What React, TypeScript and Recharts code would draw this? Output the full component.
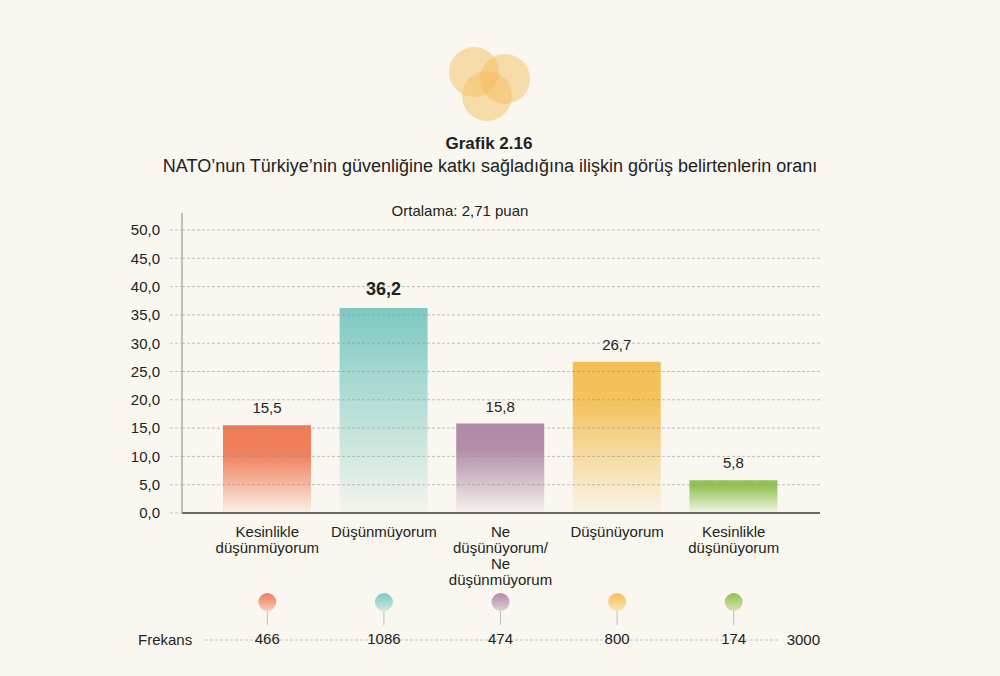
import React from 'react';
import { BarChart, Bar, XAxis, YAxis, ReferenceLine, LabelList, Cell } from 'recharts';

// Grafik 2.16 data
const categories = ['Kesinlikle düşünmüyorum', 'Düşünmüyorum', 'Ne düşünüyorum/ Ne düşünmüyorum', 'Düşünüyorum', 'Kesinlikle düşünüyorum'];
const categoryLines = [
  ['Kesinlikle', 'düşünmüyorum'],
  ['Düşünmüyorum'],
  ['Ne', 'düşünüyorum/', 'Ne', 'düşünmüyorum'],
  ['Düşünüyorum'],
  ['Kesinlikle', 'düşünüyorum'],
];
const percentages = [15.5, 36.2, 15.8, 26.7, 5.8];
const frequencies = [466, 1086, 474, 800, 174];
const frequencyTotal = 3000;
const yTicks = [0, 5, 10, 15, 20, 25, 30, 35, 40, 45, 50];
const barColors = ['#f07b57', '#7cc9c2', '#b08aa6', '#f4bf55', '#8fc24e'];
const fadeStart = [0.35, 0.05, 0.3, 0.25, 0.2];

const chartData = categories.map((name, i) => ({ name, value: percentages[i] }));

const FONT = '"Liberation Sans", Arial, Helvetica, sans-serif';
const fmt = (v: number) => v.toFixed(1).replace('.', ',');

const CategoryTick = (props: any) => {
  const { x, y, payload } = props;
  const i = payload.index;
  const lines = categoryLines[i];
  return (
    <g>
      <text x={x} y={y} textAnchor="middle" fontSize={15} fill="#222" fontFamily={FONT}>
        {lines.map((l, k) => (
          <tspan key={k} x={x} dy={k === 0 ? 24 : 16}>{l}</tspan>
        ))}
      </text>
      <line x1={x} x2={x} y1={y + 98} y2={y + 112} stroke="#bdbdbd" strokeWidth={1} />
      <circle cx={x} cy={y + 89} r={9} fill={`url(#dot${i})`} />
      <text x={x} y={y + 131} textAnchor="middle" fontSize={15} fill="#222" fontFamily={FONT}>
        {frequencies[i]}
      </text>
    </g>
  );
};

const ValueLabel = (props: any) => {
  const { x, y, width, value, index } = props;
  const big = index === 1;
  return (
    <text
      x={x + width / 2}
      y={y - (big ? 13 : 12)}
      textAnchor="middle"
      fontSize={big ? 18 : 15}
      fontWeight={big ? 700 : 400}
      fill="#222"
      fontFamily={FONT}
    >
      {fmt(value)}
    </text>
  );
};

const App: React.FC = () => {
  return (
    <div style={{ position: 'absolute', left: 0, top: 0, width: 1000, height: 676, background: '#f9f7ef', fontFamily: FONT, overflow: 'hidden' }}>
      {/* logo, titles and frequency row */}
      <svg width={1000} height={676} style={{ position: 'absolute', left: 0, top: 0 }}>
        <circle cx={474} cy={72} r={25} fill="#f3bb57" fillOpacity={0.45} />
        <circle cx={505} cy={79} r={25} fill="#f3bb57" fillOpacity={0.45} />
        <circle cx={487} cy={96} r={25} fill="#f3bb57" fillOpacity={0.45} />
        <line x1={205} x2={780} y1={640} y2={640} stroke="#c4c4c4" strokeDasharray="3 2" />
        <text x={138} y={645} fontSize={15} fill="#222" fontFamily={FONT}>Frekans</text>
        <text x={820} y={645} fontSize={15} fill="#222" textAnchor="end" fontFamily={FONT}>{frequencyTotal}</text>
        <text x={489} y={149} fontSize={17} fontWeight={700} fill="#222" textAnchor="middle" fontFamily={FONT}>Grafik 2.16</text>
        <text x={490} y={172} fontSize={18} fill="#222" textAnchor="middle" fontFamily={FONT}>
          NATO’nun Türkiye’nin güvenliğine katkı sağladığına ilişkin görüş belirtenlerin oranı
        </text>
        <text x={460} y={216} fontSize={15} fill="#222" textAnchor="middle" fontFamily={FONT}>Ortalama: 2,71 puan</text>
      </svg>
      <div style={{ position: 'absolute', left: 0, top: 0 }}>
        <BarChart width={1000} height={676} data={chartData} margin={{ top: 213, right: 180, left: 0, bottom: 0 }}>
          <defs>
            {barColors.map((c, i) => (
              <linearGradient key={`g${i}`} id={`bar${i}`} x1="0" y1="0" x2="0" y2="1">
                <stop offset="0%" stopColor={c} stopOpacity={1} />
                <stop offset={`${fadeStart[i] * 100}%`} stopColor={c} stopOpacity={0.95} />
                <stop offset="100%" stopColor={c} stopOpacity={0.04} />
              </linearGradient>
            ))}
            {barColors.map((c, i) => (
              <linearGradient key={`d${i}`} id={`dot${i}`} x1="0" y1="0" x2="0" y2="1">
                <stop offset="0%" stopColor={c} stopOpacity={1} />
                <stop offset="100%" stopColor={c} stopOpacity={0.35} />
              </linearGradient>
            ))}
          </defs>
          <XAxis
            dataKey="name"
            height={163}
            padding={{ left: 27, right: 28 }}
            axisLine={{ stroke: '#6b6b6b', strokeWidth: 2 }}
            tickLine={false}
            tickSize={0}
            tickMargin={0}
            interval={0}
            tick={<CategoryTick />}
          />
          <YAxis
            width={182}
            domain={[0, 53]}
            ticks={yTicks}
            interval={0}
            axisLine={{ stroke: '#8a8a8a', strokeWidth: 1 }}
            tickLine={{ stroke: '#c4c4c4', strokeDasharray: '3 2' }}
            tickSize={12}
            tickMargin={10}
            tickFormatter={fmt}
            tick={{ fill: '#222', fontSize: 15, fontFamily: FONT }}
          />
          <Bar dataKey="value" barSize={88} isAnimationActive={false}>
            {chartData.map((_, i) => (
              <Cell key={i} fill={`url(#bar${i})`} />
            ))}
            <LabelList dataKey="value" content={<ValueLabel />} />
          </Bar>
          {yTicks.filter((t) => t > 0).map((t) => (
            <ReferenceLine key={t} y={t} stroke="#8f8f8f" strokeOpacity={0.55} strokeDasharray="3 2" />
          ))}
        </BarChart>
      </div>
    </div>
  );
};

export default App;
